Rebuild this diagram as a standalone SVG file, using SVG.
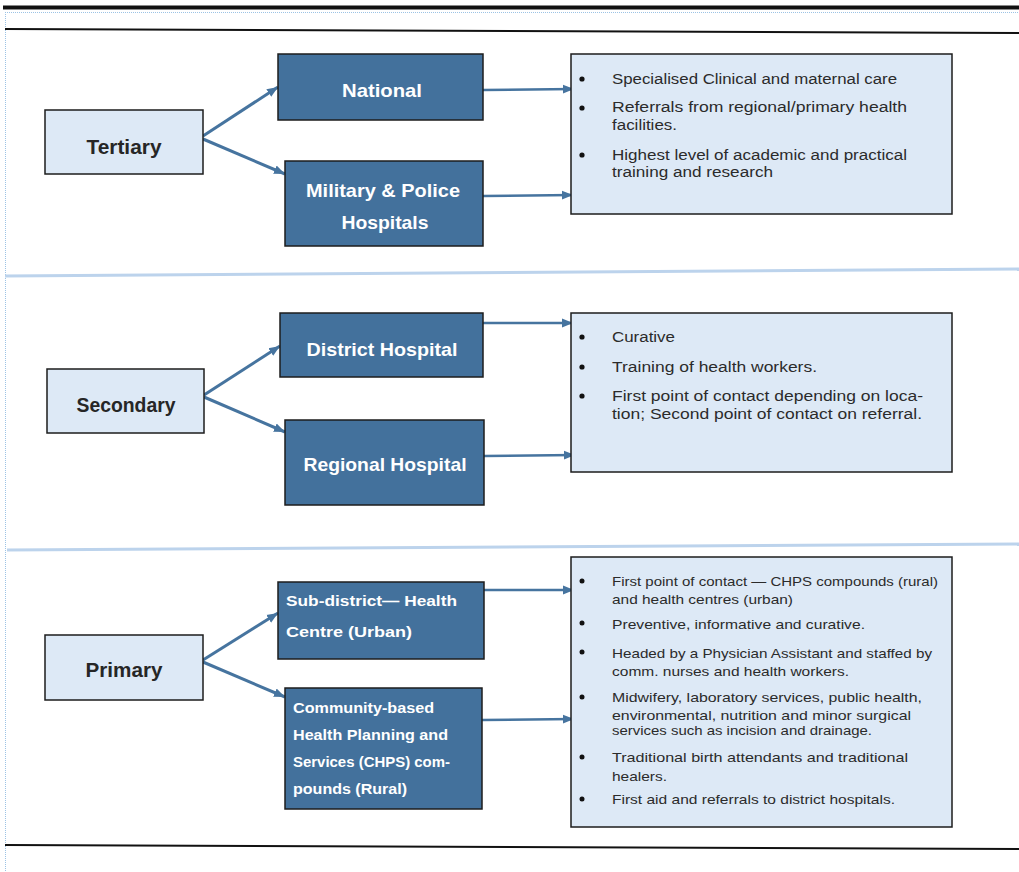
<svg xmlns="http://www.w3.org/2000/svg" width="1019" height="872" viewBox="0 0 1019 872">
<defs>
<marker id="ah" markerUnits="userSpaceOnUse" markerWidth="12" markerHeight="12" viewBox="0 0 12 12" refX="11" refY="6" orient="auto">
<path d="M0,1.5 L11,6 L0,10.5 Z" fill="#46749f"/>
</marker>
<style>
.lvl{fill:#dde9f6;stroke:#1c1c1c;stroke-width:1.5}
.sub{fill:#43719c;stroke:#1c1c1c;stroke-width:1.5}
.info{fill:#dde9f6;stroke:#1c1c1c;stroke-width:1.5}
.lt{font-family:"Liberation Sans",Arial,sans-serif;font-weight:bold;font-size:20px;fill:#262626}
.wt{font-family:"Liberation Sans",Arial,sans-serif;font-weight:bold;font-size:19px;fill:#ffffff}
.ws{font-family:"Liberation Sans",Arial,sans-serif;font-size:15px;fill:#ffffff;font-weight:bold}
.ws2{font-family:"Liberation Sans",Arial,sans-serif;font-size:14px;fill:#ffffff;font-weight:bold}
.bt{font-family:"Liberation Sans",Arial,sans-serif;font-size:14px;fill:#2b2b2b}
.bt3{font-family:"Liberation Sans",Arial,sans-serif;font-size:13px;fill:#2b2b2b}
.bul{fill:#111111}
.con{fill:none;stroke:#46749f;stroke-width:3;marker-end:url(#ah)}
.conh{fill:none;stroke:#46749f;stroke-width:2.5;marker-end:url(#ah)}
.sep{stroke:#bcd3ec;stroke-width:3}
.blk{stroke:#111111}
.dot{stroke:#9cc3e5;stroke-width:1;stroke-dasharray:1 1;fill:none}
</style>
</defs>
<rect width="1019" height="872" fill="#ffffff"/>
<g id="frame">
<line class="blk" x1="3" y1="7.5" x2="1019" y2="7.5" stroke-width="4"/>
<line class="dot" x1="5" y1="12.5" x2="1019" y2="12.5"/>
<line class="dot" x1="5.5" y1="12" x2="5.5" y2="872"/>
<line class="blk" x1="5" y1="29" x2="1019" y2="33" stroke-width="2.2"/>
<line class="sep" x1="5" y1="276" x2="1019" y2="269"/>
<line class="sep" x1="7" y1="550" x2="1019" y2="544"/>
<line class="blk" x1="5" y1="845" x2="1019" y2="849" stroke-width="2.2"/>
</g>
<g id="connectors">
<line class="con" x1="203" y1="136" x2="278" y2="87"/>
<line class="con" x1="203" y1="139" x2="285" y2="174"/>
<line class="conh" x1="483" y1="90" x2="574" y2="89"/>
<line class="conh" x1="483" y1="196" x2="573" y2="195"/>
<line class="con" x1="204" y1="395" x2="280" y2="346"/>
<line class="con" x1="204" y1="397" x2="285" y2="432"/>
<line class="conh" x1="483" y1="323" x2="573" y2="323"/>
<line class="conh" x1="484" y1="456" x2="575" y2="455"/>
<line class="con" x1="203" y1="660" x2="278" y2="613"/>
<line class="con" x1="203" y1="662" x2="285" y2="697"/>
<line class="conh" x1="484" y1="590" x2="574" y2="590"/>
<line class="conh" x1="482" y1="720" x2="574" y2="719"/>
</g>
<g id="tertiary">
<rect class="lvl" x="45" y="110" width="158" height="64"/>
<text class="lt" x="124" y="154" text-anchor="middle" textLength="75" lengthAdjust="spacingAndGlyphs">Tertiary</text>
</g>
<g id="national">
<rect class="sub" x="278" y="54" width="205" height="66"/>
<text class="wt" x="382" y="97" text-anchor="middle" textLength="80" lengthAdjust="spacingAndGlyphs">National</text>
</g>
<g id="military">
<rect class="sub" x="285" y="161" width="198" height="85"/>
<text class="wt" x="383" y="197" text-anchor="middle" textLength="154" lengthAdjust="spacingAndGlyphs">Military &amp; Police</text>
<text class="wt" x="385" y="229" text-anchor="middle" textLength="87" lengthAdjust="spacingAndGlyphs">Hospitals</text>
</g>
<g id="tertiary-info">
<rect class="info" x="571" y="54" width="381" height="160"/>
<circle class="bul" cx="582" cy="79" r="2.6"/>
<circle class="bul" cx="582" cy="108" r="2.6"/>
<circle class="bul" cx="582" cy="155" r="2.6"/>
<text class="bt" x="612" y="84" textLength="285" lengthAdjust="spacingAndGlyphs">Specialised Clinical and maternal care</text>
<text class="bt" x="612" y="112" textLength="295" lengthAdjust="spacingAndGlyphs">Referrals from regional/primary health</text>
<text class="bt" x="612" y="130" textLength="65" lengthAdjust="spacingAndGlyphs">facilities.</text>
<text class="bt" x="612" y="160" textLength="295" lengthAdjust="spacingAndGlyphs">Highest level of academic and practical</text>
<text class="bt" x="612" y="177" textLength="161" lengthAdjust="spacingAndGlyphs">training and research</text>
</g>
<g id="secondary">
<rect class="lvl" x="47" y="369" width="157" height="64"/>
<text class="lt" x="126" y="412" text-anchor="middle" textLength="99" lengthAdjust="spacingAndGlyphs">Secondary</text>
</g>
<g id="district">
<rect class="sub" x="280" y="313" width="203" height="64"/>
<text class="wt" x="382" y="356" text-anchor="middle" textLength="151" lengthAdjust="spacingAndGlyphs">District Hospital</text>
</g>
<g id="regional">
<rect class="sub" x="285" y="420" width="199" height="85"/>
<text class="wt" x="385" y="471" text-anchor="middle" textLength="163" lengthAdjust="spacingAndGlyphs">Regional Hospital</text>
</g>
<g id="secondary-info">
<rect class="info" x="571" y="313" width="381" height="159"/>
<circle class="bul" cx="582" cy="337" r="2.6"/>
<circle class="bul" cx="582" cy="367" r="2.6"/>
<circle class="bul" cx="582" cy="396" r="2.6"/>
<text class="bt" x="612" y="342" textLength="63" lengthAdjust="spacingAndGlyphs">Curative</text>
<text class="bt" x="612" y="372" textLength="205" lengthAdjust="spacingAndGlyphs">Training of health workers.</text>
<text class="bt" x="612" y="401" textLength="311" lengthAdjust="spacingAndGlyphs">First point of contact depending on loca-</text>
<text class="bt" x="612" y="419" textLength="310" lengthAdjust="spacingAndGlyphs">tion; Second point of contact on referral.</text>
</g>
<g id="primary">
<rect class="lvl" x="45" y="635" width="158" height="65"/>
<text class="lt" x="124" y="677" text-anchor="middle" textLength="77" lengthAdjust="spacingAndGlyphs">Primary</text>
</g>
<g id="subdistrict">
<rect class="sub" x="278" y="582" width="206" height="77"/>
<text class="ws" x="286" y="606" textLength="171" lengthAdjust="spacingAndGlyphs">Sub-district— Health</text>
<text class="ws" x="286" y="637" textLength="126" lengthAdjust="spacingAndGlyphs">Centre (Urban)</text>
</g>
<g id="chps">
<rect class="sub" x="285" y="688" width="197" height="121"/>
<text class="ws2" x="293" y="713" textLength="141" lengthAdjust="spacingAndGlyphs">Community-based</text>
<text class="ws2" x="293" y="740" textLength="155" lengthAdjust="spacingAndGlyphs">Health Planning and</text>
<text class="ws2" x="293" y="767" textLength="157" lengthAdjust="spacingAndGlyphs">Services (CHPS) com-</text>
<text class="ws2" x="293" y="794" textLength="114" lengthAdjust="spacingAndGlyphs">pounds (Rural)</text>
</g>
<g id="primary-info">
<rect class="info" x="571" y="557" width="381" height="270"/>
<circle class="bul" cx="582" cy="581" r="2.5"/>
<circle class="bul" cx="582" cy="623" r="2.5"/>
<circle class="bul" cx="582" cy="652" r="2.5"/>
<circle class="bul" cx="582" cy="697" r="2.5"/>
<circle class="bul" cx="582" cy="757" r="2.5"/>
<circle class="bul" cx="582" cy="799" r="2.5"/>
<text class="bt3" x="612" y="586" textLength="326" lengthAdjust="spacingAndGlyphs">First point of contact — CHPS compounds (rural)</text>
<text class="bt3" x="612" y="604" textLength="181" lengthAdjust="spacingAndGlyphs">and health centres (urban)</text>
<text class="bt3" x="612" y="629" textLength="253" lengthAdjust="spacingAndGlyphs">Preventive, informative and curative.</text>
<text class="bt3" x="612" y="658" textLength="320" lengthAdjust="spacingAndGlyphs">Headed by a Physician Assistant and staffed by</text>
<text class="bt3" x="612" y="676" textLength="237" lengthAdjust="spacingAndGlyphs">comm. nurses and health  workers.</text>
<text class="bt3" x="612" y="702" textLength="310" lengthAdjust="spacingAndGlyphs">Midwifery, laboratory services, public health,</text>
<text class="bt3" x="612" y="720" textLength="299" lengthAdjust="spacingAndGlyphs">environmental, nutrition and  minor surgical</text>
<text class="bt3" x="612" y="735" textLength="260" lengthAdjust="spacingAndGlyphs">services such as incision and drainage.</text>
<text class="bt3" x="612" y="762" textLength="296" lengthAdjust="spacingAndGlyphs">Traditional birth attendants and  traditional</text>
<text class="bt3" x="612" y="781" textLength="55" lengthAdjust="spacingAndGlyphs">healers.</text>
<text class="bt3" x="612" y="804" textLength="283" lengthAdjust="spacingAndGlyphs">First aid and referrals to district hospitals.</text>
</g>
</svg>
